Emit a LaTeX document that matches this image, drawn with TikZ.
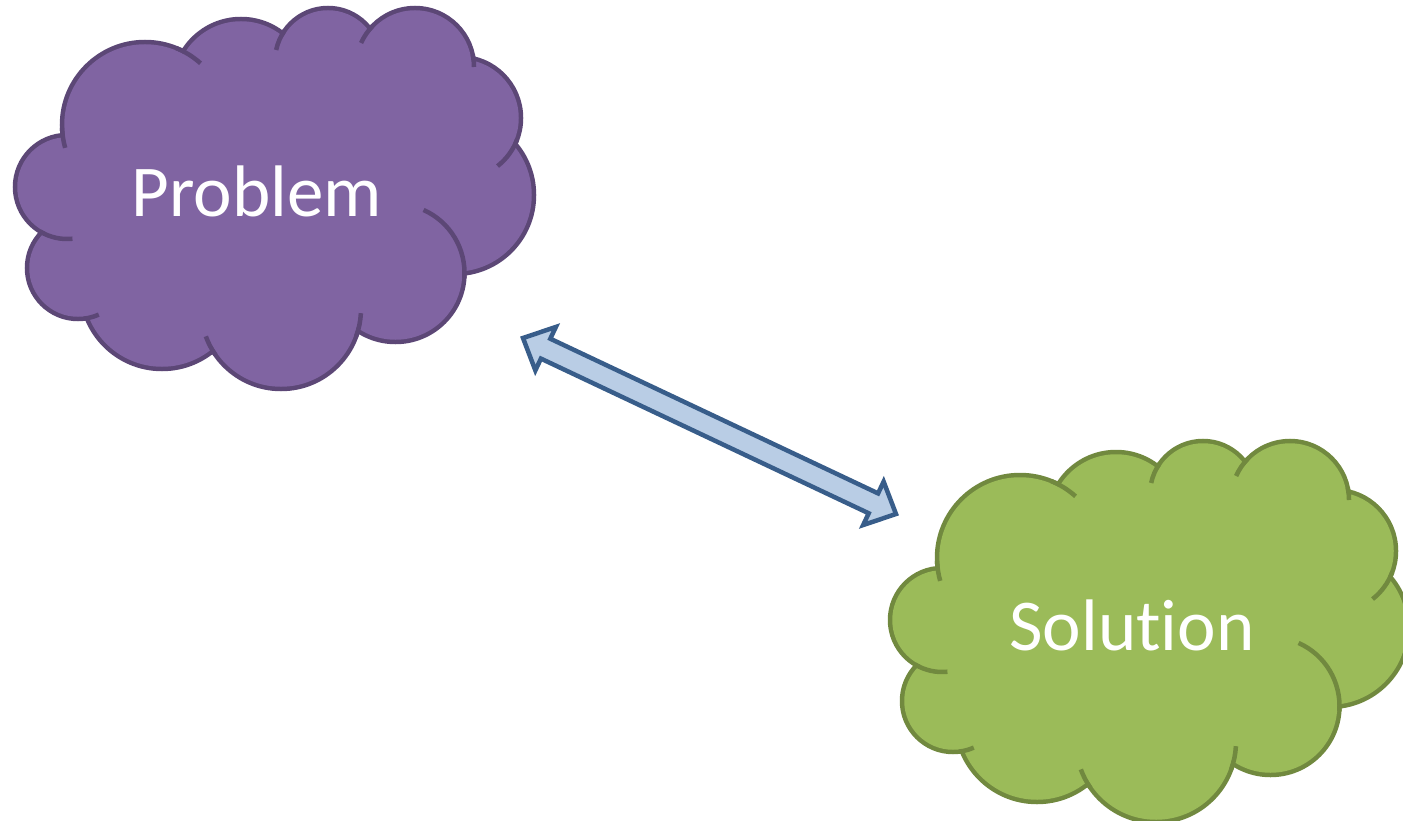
\documentclass[tikz,border=0pt]{standalone}
\usepackage{fontspec}
\setmainfont{Carlito}[Ligatures=NoCommon]
\usetikzlibrary{calc}

\definecolor{probfill}{HTML}{8064A2}
\definecolor{probline}{HTML}{5C4776}
\definecolor{solfill}{HTML}{9BBB59}
\definecolor{solline}{HTML}{71893F}
\definecolor{arrfill}{HTML}{B9CDE5}
\definecolor{arrline}{HTML}{385D8A}

\tikzset{
  cloudtext/.style={text=white, inner sep=0pt, anchor=base,
    font=\fontsize{73}{88}\selectfont},
  blockarrow/.style={draw=arrline, fill=arrfill, line width=4.5pt, line join=miter},
}

% A puffy cloud built from overlapping lobes.
% #1 = offset, #2 = fill colour, #3 = outline colour.
\newcommand\puffcloud[3]{%
  \begin{scope}[shift={#1}]
    % outer outline: wide strokes whose inner half is hidden by the fill
    \foreach \cx/\cy/\rr in {145/125/83, 241/87/68, 328/61/53, 415/67/59,
        460/118/61, 455/195/79, 395.5/273/69, 281/309/80, 162/288/81,
        78/268/51, 67/187/52}
      \draw[#3, line width=9pt] (\cx,\cy) circle[radius=\rr-2.25];
    % body
    \fill[#2] (145,125) -- (241,87) -- (328,61) -- (415,67) -- (460,118)
      -- (455,195) -- (395.5,273) -- (281,309) -- (162,288) -- (78,268)
      -- (67,187) -- cycle;
    \foreach \cx/\cy/\rr in {145/125/83, 241/87/68, 328/61/53, 415/67/59,
        460/118/61, 455/195/79, 395.5/273/69, 281/309/80, 162/288/81,
        78/268/51, 67/187/52}
      \fill[#2] (\cx,\cy) circle[radius=\rr-2.25];
    % short inner strokes where the lobes meet
    \foreach \cx/\cy/\rr/\a/\b in {145/125/83/178/164, 145/125/83/292/312,
        328/61/53/215/192, 415/67/59/224/204, 415/67/59/-12/0,
        460/118/61/20/52, 395.5/273/69/-66/4, 281/309/80/20/3,
        281/309/80/145/160, 78/268/51/83/66, 67/187/52/121/84}
      \draw[#3, line width=4.5pt] ($(\cx,\cy)+(\a:\rr)$)
        arc[start angle=\a, end angle=\b, radius=\rr];
  \end{scope}}

\begin{document}
\begin{tikzpicture}[x=1pt, y=-1pt]
  \useasboundingbox (0,0) rectangle (1403,821);
  \clip (0,0) rectangle (1403,821);

  \puffcloud{(0,0)}{probfill}{probline}
  \puffcloud{(875,433)}{solfill}{solline}

  \node[cloudtext] (problem) at (257,217) {Problem};
  \node[cloudtext] (solution) at (1132,650) {Solution};

  % two-headed block arrow between the clouds
  \coordinate (arrowL) at (523,338);
  \coordinate (arrowR) at (896,514);
  \draw[blockarrow] (arrowL)
    -- ($(arrowL)!25pt!(arrowR)!24pt!90:(arrowR)$)
    -- ($(arrowL)!25pt!(arrowR)!11pt!90:(arrowR)$)
    -- ($(arrowR)!25pt!(arrowL)!11pt!-90:(arrowL)$)
    -- ($(arrowR)!25pt!(arrowL)!24pt!-90:(arrowL)$)
    -- (arrowR)
    -- ($(arrowR)!25pt!(arrowL)!24pt!90:(arrowL)$)
    -- ($(arrowR)!25pt!(arrowL)!11pt!90:(arrowL)$)
    -- ($(arrowL)!25pt!(arrowR)!11pt!-90:(arrowR)$)
    -- ($(arrowL)!25pt!(arrowR)!24pt!-90:(arrowR)$)
    -- cycle;
\end{tikzpicture}
\end{document}
